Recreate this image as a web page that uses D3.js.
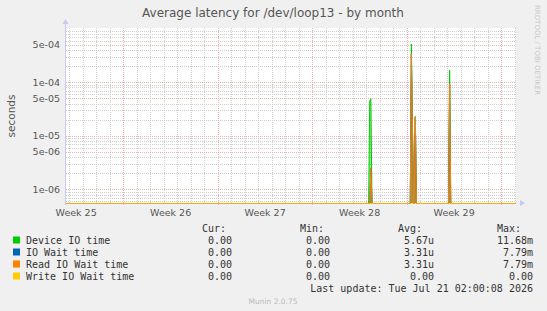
<!DOCTYPE html>
<html>
<head>
  <meta charset="utf-8">
  <title>Average latency for /dev/loop13 - by month</title>
  <style>
    body { margin: 0; background: #f0f0f0; }
    svg text { font-family: "DejaVu Sans", sans-serif; }
    .mono { font-family: "DejaVu Sans Mono", monospace; font-size: 10px; fill: #333; }
  </style>
</head>
<body>
  <script src="https://cdn.jsdelivr.net/npm/d3@7"></script>
  <script>
    var width = 547;
    var height = 311;
    var plot = { left: 66, right: 516, top: 28, bottom: 203 };

    // time range of the month graph
    var rangeStart = new Date(2026, 5, 17, 18, 0);
    var rangeEnd = new Date(2026, 6, 21, 2, 0);

    // samples (2h averages), all other samples are zero
    var sampleTimes = [
      "2026-06-17 18:00", "2026-07-10 04:00", "2026-07-10 06:00", "2026-07-10 08:00",
      "2026-07-10 10:00", "2026-07-13 06:00", "2026-07-13 08:00", "2026-07-13 10:00",
      "2026-07-13 12:00", "2026-07-13 13:00", "2026-07-13 15:00", "2026-07-13 17:00",
      "2026-07-16 02:00", "2026-07-16 04:00", "2026-07-16 06:00", "2026-07-21 02:00"
    ];
    var deviceIO = [0, 0, 4.5e-5, 4.95e-5, 0, 0, 5.15e-4, 1.2e-5, 0, 0, 2.3e-5, 0, 0, 1.7e-4, 0, 0];
    var ioWait   = [0, 0, 0, 2.45e-6, 0, 0, 3.4e-4, 1.2e-5, 0, 0, 2.25e-5, 0, 0, 9.3e-5, 0, 0];
    var readWait = [0, 0, 0, 2.45e-6, 0, 0, 3.4e-4, 1.2e-5, 0, 0, 2.25e-5, 0, 0, 9.3e-5, 0, 0];
    var writeWait = [0, 0, 0, 0, 0, 0, 0, 0, 0, 0, 0, 0, 0, 0, 0, 0];

    var seriesNames = ["Device IO time", "IO Wait time", "Read IO Wait time", "Write IO Wait time"];
    var seriesColors = ["#00cc00", "#0066b3", "#ff8000", "#ffcc00"];
    var curValues = ["0.00", "0.00", "0.00", "0.00"];
    var minValues = ["0.00", "0.00", "0.00", "0.00"];
    var avgValues = ["5.67u", "3.31u", "3.31u", "0.00"];
    var maxValues = ["11.68m", "7.79m", "7.79m", "0.00"];

    var yTickValues = [5e-4, 1e-4, 5e-5, 1e-5, 5e-6, 1e-6];

    var parseTime = d3.timeParse("%Y-%m-%d %H:%M");
    var times = sampleTimes.map(parseTime);
    var seriesValues = [deviceIO, ioWait, readWait, writeWait];

    var svg = d3.select("body").append("svg")
      .attr("width", width)
      .attr("height", height)
      .style("display", "block");

    svg.append("rect").attr("width", width).attr("height", height).attr("fill", "#f0f0f0");
    svg.append("rect")
      .attr("x", plot.left).attr("y", plot.top)
      .attr("width", plot.right - plot.left).attr("height", plot.bottom - plot.top)
      .attr("fill", "#fff");

    var x = d3.scaleTime().domain([rangeStart, rangeEnd]).range([plot.left, plot.right]);
    var y = d3.scaleLog().domain([5.55e-7, 1.035e-3]).range([plot.bottom, plot.top]);

    // minor horizontal grid
    var minorY = [];
    [-7, -6, -5, -4, -3].forEach(function (e) {
      for (var m = 1; m < 10; m++) {
        var v = m * Math.pow(10, e);
        if (v >= y.domain()[0] && v <= y.domain()[1] && m != 1 && m != 5) minorY.push(v);
      }
    });
    svg.append("g").selectAll("line").data(minorY).enter().append("line")
      .attr("x1", plot.left).attr("x2", plot.right)
      .attr("y1", function (d) { return Math.round(y(d)) + 0.5; })
      .attr("y2", function (d) { return Math.round(y(d)) + 0.5; })
      .attr("stroke", "#cfcfcf").attr("stroke-dasharray", "1,1");

    // daily vertical grid
    var days = d3.timeDay.range(rangeStart, rangeEnd).filter(function (d) { return d.getDay() != 1; });
    svg.append("g").selectAll("line").data(days).enter().append("line")
      .attr("x1", function (d) { return Math.round(x(d)) + 0.5; })
      .attr("x2", function (d) { return Math.round(x(d)) + 0.5; })
      .attr("y1", plot.top).attr("y2", plot.bottom)
      .attr("stroke", "#cfcfcf").attr("stroke-dasharray", "1,1");

    // major grid
    var majorColor = "#f2b0b0";
    svg.append("g").selectAll("line").data(yTickValues).enter().append("line")
      .attr("x1", plot.left).attr("x2", plot.right)
      .attr("y1", function (d) { return Math.round(y(d)) + 0.5; })
      .attr("y2", function (d) { return Math.round(y(d)) + 0.5; })
      .attr("stroke", majorColor).attr("stroke-dasharray", "1,1");

    var mondays = d3.timeMonday.range(rangeStart, rangeEnd);
    svg.append("g").selectAll("line").data(mondays).enter().append("line")
      .attr("x1", function (d) { return Math.round(x(d)) + 0.5; })
      .attr("x2", function (d) { return Math.round(x(d)) + 0.5; })
      .attr("y1", plot.top).attr("y2", plot.bottom + 2)
      .attr("stroke", majorColor).attr("stroke-dasharray", "1,1");

    // series
    var g = svg.append("g");
    svg.append("clipPath").attr("id", "clip").append("rect")
      .attr("x", plot.left).attr("y", plot.top)
      .attr("width", plot.right - plot.left).attr("height", plot.bottom - plot.top + 1);
    g.attr("clip-path", "url(#clip)");

    function yv(v) { return v > 0 ? y(v) : plot.bottom + 0.5; }

    seriesValues.forEach(function (vals, i) {
      var pts = times.map(function (t, k) { return [t, vals[k]]; });
      var area = d3.area()
        .x(function (d) { return x(d[0]); })
        .y0(plot.bottom)
        .y1(function (d) { return yv(d[1]); });
      var line = d3.line()
        .x(function (d) { return x(d[0]); })
        .y(function (d) { return yv(d[1]); });
      if (i < 3) {
        g.append("path").datum(pts).attr("d", area)
          .attr("fill", seriesColors[i]).attr("fill-opacity", 0.45);
      }
      g.append("path").datum(pts).attr("d", line)
        .attr("fill", "none").attr("stroke", seriesColors[i])
        .attr("stroke-width", 1).attr("stroke-opacity", i == 3 ? 0.55 : 1);
    });

    // axes
    var axisColor = "#c8c8f0";
    svg.append("line").attr("x1", plot.left - 0.5).attr("x2", plot.left - 0.5)
      .attr("y1", plot.bottom + 2).attr("y2", plot.top - 5).attr("stroke", axisColor);
    svg.append("path").attr("d", "M" + (plot.left - 3.5) + "," + (plot.top - 4) + "L" + (plot.left - 0.5) + "," + (plot.top - 9) + "L" + (plot.left + 2.5) + "," + (plot.top - 4) + "Z")
      .attr("fill", axisColor);
    svg.append("path").attr("d", "M" + (plot.right + 4) + "," + (plot.bottom - 3) + "L" + (plot.right + 9) + "," + (plot.bottom) + "L" + (plot.right + 4) + "," + (plot.bottom + 3) + "Z")
      .attr("fill", axisColor);

    // y labels
    svg.append("g").selectAll("text").data(yTickValues).enter().append("text")
      .attr("x", plot.left - 6)
      .attr("y", function (d) { return y(d) + 3.5; })
      .attr("text-anchor", "end")
      .attr("font-size", "9.5px").attr("fill", "#555")
      .text(function (d) { return d3.format(".0e")(d).replace(/e([+-])(\d)$/, "e$10$2"); });

    // week labels, centred in each week
    svg.append("g").selectAll("text").data(mondays).enter().append("text")
      .attr("x", function (d) { return x(d3.timeHour.offset(d, -84)); })
      .attr("y", 216)
      .attr("text-anchor", "middle")
      .attr("font-size", "9.5px").attr("fill", "#555")
      .text(function (d) { return "Week " + d3.timeFormat("%V")(d3.timeDay.offset(d, -1)); });

    // titles
    svg.append("text").attr("x", 273).attr("y", 17).attr("text-anchor", "middle")
      .attr("font-size", "12px").attr("fill", "#555")
      .text("Average latency for /dev/loop13 - by month");
    svg.append("text").attr("transform", "translate(15,116) rotate(-90)")
      .attr("text-anchor", "middle").attr("font-size", "10.5px").attr("fill", "#555")
      .text("seconds");
    svg.append("text").attr("transform", "translate(535,5) rotate(90)")
      .attr("font-size", "7px").attr("fill", "#c8c8c8")
      .text("RRDTOOL / TOBI OETIKER");

    // legend
    var rowY = [244, 256, 268, 280];
    var headers = [["Cur:", 226], ["Min:", 324], ["Avg:", 422], ["Max:", 521]];
    headers.forEach(function (h) {
      svg.append("text").attr("class", "mono").attr("x", h[1]).attr("y", 232)
        .attr("text-anchor", "end").text(h[0]);
    });
    seriesNames.forEach(function (name, i) {
      svg.append("rect").attr("x", 13).attr("y", rowY[i] - 7.5).attr("width", 7).attr("height", 7)
        .attr("fill", seriesColors[i]);
      svg.append("text").attr("class", "mono").attr("x", 26).attr("y", rowY[i]).text(name);
      [[curValues, 232], [minValues, 330], [avgValues, 434], [maxValues, 533]].forEach(function (c) {
        svg.append("text").attr("class", "mono").attr("x", c[1]).attr("y", rowY[i])
          .attr("text-anchor", "end").text(c[0][i]);
      });
    });
    svg.append("text").attr("class", "mono").attr("x", 533).attr("y", 292)
      .attr("text-anchor", "end").text("Last update: Tue Jul 21 02:00:08 2026");
    svg.append("text").attr("x", 273).attr("y", 304).attr("text-anchor", "middle")
      .attr("font-size", "7.5px").attr("fill", "#bbb").text("Munin 2.0.75");
  </script>
</body>
</html>
